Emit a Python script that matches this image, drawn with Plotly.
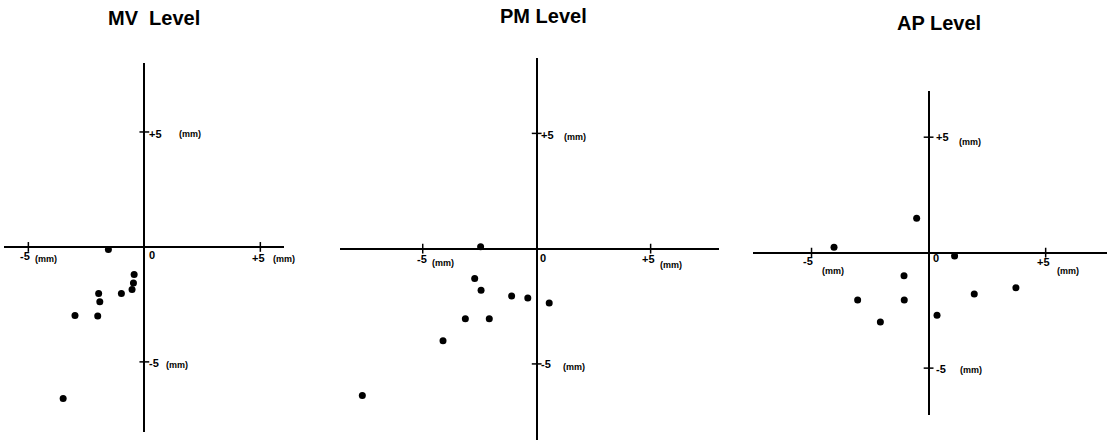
import plotly.graph_objects as go

# ---- data (mm) ----
panel_titles = ["MV\u00a0\u00a0Level", "PM Level", "AP Level"]
mv_x = [-1.55, -0.44, -0.47, -0.53, -0.99, -1.97, -1.92, -2.99, -2.01, -3.50]
mv_y = [-0.11, -1.20, -1.57, -1.85, -2.03, -2.03, -2.39, -2.98, -3.00, -6.59]
pm_x = [-2.46, -2.72, -2.44, -1.10, -0.39, 0.55, -3.13, -2.08, -4.11, -7.65]
pm_y = [0.08, -1.30, -1.80, -2.05, -2.14, -2.36, -3.04, -3.04, -4.00, -6.37]
ap_x = [-4.04, -0.51, 1.11, -1.05, -3.03, -1.04, 1.95, 3.73, 0.36, -2.06]
ap_y = [0.23, 1.49, -0.14, -1.00, -2.05, -2.05, -1.79, -1.52, -2.71, -3.00]
tick_vals = [-5, 5]
tick_texts = ["-5", "+5"]
zero_text = "0"
unit_text = "(mm)"

W, H = 1109, 440
FONT = "Liberation Sans, Arial, sans-serif"

# ---- layout per panel (pixel geometry) ----
panels = [
    dict(xs=mv_x, ys=mv_y, px=(4, 284), py=(63, 432), xr=[-6.05, 6.02], yr=[-8.05, 8.0],
         title=(154, 17.5),
         # offsets: (xanchor, xshift, yshift)
         yp5=("left", 4, -2), yp5u=("left", 34, -2),
         ym5=("left", 4, -1), ym5u=("left", 21, -3),
         xm5=("right", 3, -9), xm5u=("left", 6, -12),
         x0=("left", 4, -8),
         xp5=("center", -2, -11), xp5u=("left", 12, -12)),
    dict(xs=pm_x, ys=pm_y, px=(340, 719), py=(58, 440), xr=[-8.63, 8.0], yr=[-8.3, 8.27],
         title=(543.5, 15.7),
         yp5=("left", 3, -2), yp5u=("left", 26, -4),
         ym5=("left", 3, 0), ym5u=("left", 25, -3),
         xm5=("right", 5, -10), xm5u=("left", 8, -14),
         x0=("left", 2, -9),
         xp5=("center", -2, -10), xp5u=("left", 8, -16)),
    dict(xs=ap_x, ys=ap_y, px=(753, 1107), py=(91, 415), xr=[-7.5, 7.62], yr=[-7.03, 7.0],
         title=(938.5, 22.7),
         yp5=("left", 6, 0), yp5u=("left", 29, -5),
         ym5=("left", 6, -1), ym5u=("left", 30, -2),
         xm5=("center", -4, -8), xm5u=("left", 9, -18),
         x0=("left", 3, -5),
         xp5=("center", -2, -9), xp5u=("left", 10, -18)),
]

fig = go.Figure()
annotations = []
layout_axes = {}

for i, p in enumerate(panels, start=1):
    xa = "x" if i == 1 else f"x{i}"
    ya = "y" if i == 1 else f"y{i}"
    xkey = "xaxis" if i == 1 else f"xaxis{i}"
    ykey = "yaxis" if i == 1 else f"yaxis{i}"
    layout_axes[xkey] = dict(
        domain=[p["px"][0] / W, p["px"][1] / W], range=p["xr"], anchor=ya,
        showgrid=False, showline=False, showticklabels=False, ticks="",
        zeroline=True, zerolinecolor="black", zerolinewidth=2, fixedrange=True)
    layout_axes[ykey] = dict(
        domain=[1 - p["py"][1] / H, 1 - p["py"][0] / H], range=p["yr"], anchor=xa,
        showgrid=False, showline=False, showticklabels=False, ticks="",
        zeroline=True, zerolinecolor="black", zerolinewidth=2, fixedrange=True)

    # data points
    fig.add_trace(go.Scatter(x=p["xs"], y=p["ys"], mode="markers", xaxis=xa, yaxis=ya,
                             marker=dict(color="black", size=7), cliponaxis=False,
                             showlegend=False, hoverinfo="x+y"))
    # tick crosses on the axes
    fig.add_trace(go.Scatter(x=tick_vals, y=[0, 0], mode="markers", xaxis=xa, yaxis=ya,
                             marker=dict(symbol="line-ns", size=7, line=dict(color="black", width=1.5)),
                             showlegend=False, hoverinfo="skip"))
    fig.add_trace(go.Scatter(x=[0, 0], y=tick_vals, mode="markers", xaxis=xa, yaxis=ya,
                             marker=dict(symbol="line-ew", size=7, line=dict(color="black", width=1.5)),
                             showlegend=False, hoverinfo="skip"))

    # title
    annotations.append(dict(text=f"<b>{panel_titles[i-1]}</b>", x=p["title"][0] / W,
                            y=1 - p["title"][1] / H, xref="paper", yref="paper",
                            xanchor="center", yanchor="middle", showarrow=False,
                            font=dict(family=FONT, size=20, color="black")))

    def lab(text, x, y, spec, size):
        annotations.append(dict(text=f"<b>{text}</b>", x=x, y=y, xref=xa, yref=ya,
                                xanchor=spec[0], yanchor="middle", xshift=spec[1], yshift=spec[2],
                                showarrow=False, borderpad=0,
                                font=dict(family=FONT, size=size, color="black")))

    lab(tick_texts[1], 0, tick_vals[1], p["yp5"], 11)
    lab(unit_text, 0, tick_vals[1], p["yp5u"], 9)
    lab(tick_texts[0], 0, tick_vals[0], p["ym5"], 11)
    lab(unit_text, 0, tick_vals[0], p["ym5u"], 9)
    lab(tick_texts[0], tick_vals[0], 0, p["xm5"], 11)
    lab(unit_text, tick_vals[0], 0, p["xm5u"], 9)
    lab(zero_text, 0, 0, p["x0"], 11)
    lab(tick_texts[1], tick_vals[1], 0, p["xp5"], 11)
    lab(unit_text, tick_vals[1], 0, p["xp5u"], 9)

fig.update_layout(
    width=W, height=H, margin=dict(l=0, r=0, t=0, b=0),
    paper_bgcolor="white", plot_bgcolor="white",
    annotations=annotations, showlegend=False,
    font=dict(family=FONT, color="black"),
    **layout_axes,
)

fig.write_html("out.html", include_plotlyjs=True, config={"displayModeBar": False})
